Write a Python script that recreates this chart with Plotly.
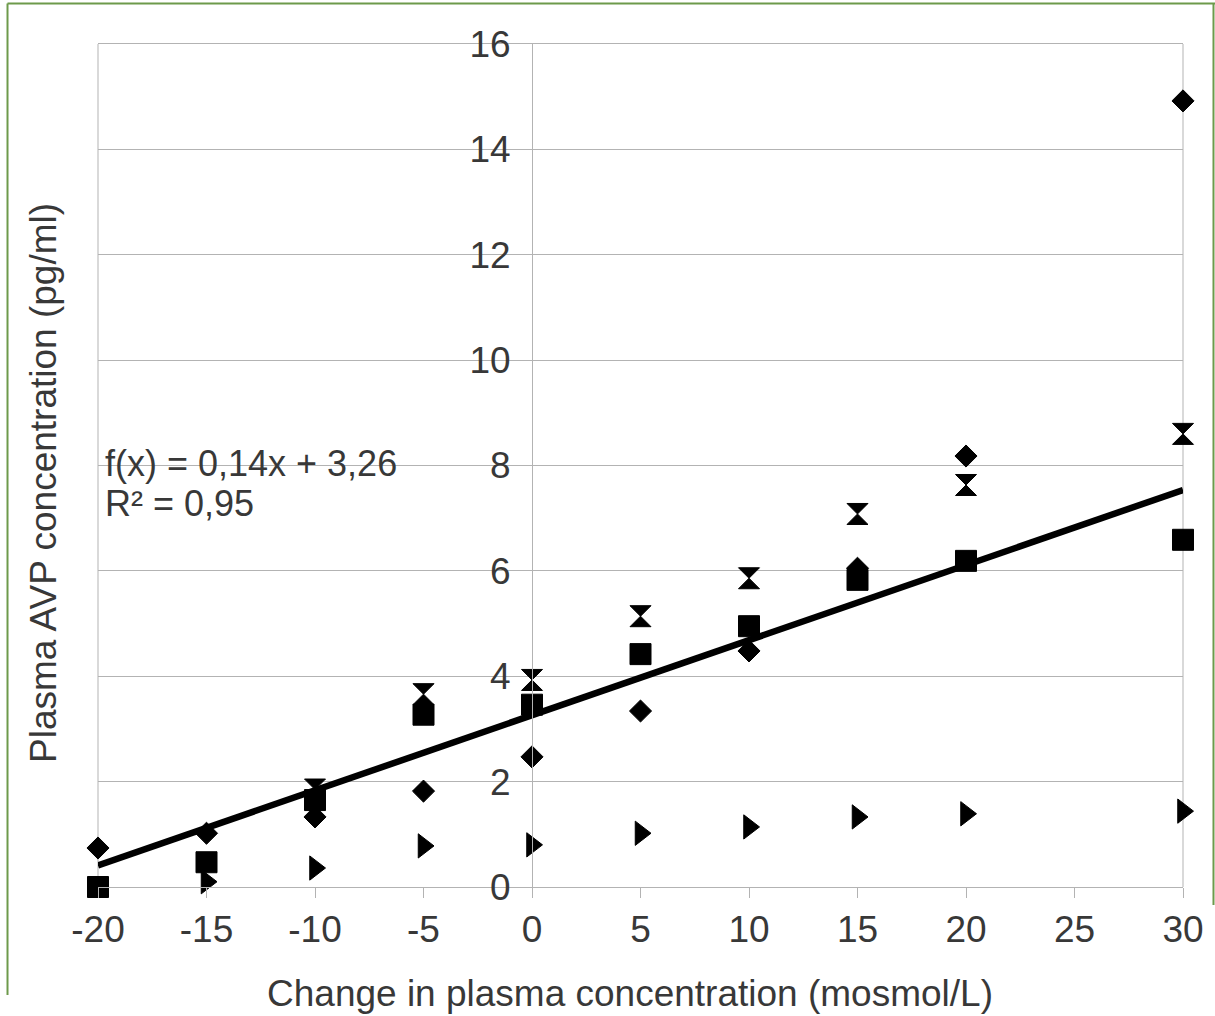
import plotly.graph_objects as go

# ---- data ----
x_vals = [-20, -15, -10, -5, 0, 5, 10, 15, 20, 30]
diamond_y = [0.74, 1.02, 1.33, 1.82, 2.47, 3.34, 4.48, 6.05, 8.18, 14.92]
square_y = [0.0, 0.47, 1.65, 3.27, 3.46, 4.42, 4.95, 5.83, 6.19, 6.59]
hourglass_x = [-10, -5, 0, 5, 10, 15, 20, 30]
hourglass_y = [1.85, 3.66, 3.93, 5.14, 5.86, 7.08, 7.63, 8.60]
triangle_x = [-15, -10, -5, 0, 5, 10, 15, 20, 30]
triangle_y = [0.10, 0.36, 0.78, 0.80, 1.02, 1.14, 1.33, 1.39, 1.44]
trend_slope = 0.1425
trend_intercept = 3.26
trend_x = [-20, 30]
x_ticks = [-20, -15, -10, -5, 0, 5, 10, 15, 20, 25, 30]
x_tick_labels = ["-20", "-15", "-10", "-5", "0", "5", "10", "15", "20", "25", "30"]
y_ticks = [0, 2, 4, 6, 8, 10, 12, 14, 16]
equation_text = "f(x) = 0,14x + 3,26"
r2_text = "R² = 0,95"
x_title = "Change in plasma concentration (mosmol/L)"
y_title = "Plasma AVP concentration (pg/ml)"

FONT = "Liberation Sans, Arial, sans-serif"
FS = 37
TXT = "#383838"
GRID = "#b3b3b3"
GREEN = "#6d9a4b"

fig = go.Figure()

trend_y = [trend_slope * x + trend_intercept for x in trend_x]

mk_line = dict(color="black", width=1)
fig.add_trace(go.Scatter(x=x_vals, y=diamond_y, mode="markers", cliponaxis=False,
                         marker=dict(symbol="diamond", size=17, color="black", line=mk_line)))
fig.add_trace(go.Scatter(x=x_vals, y=square_y, mode="markers", cliponaxis=False,
                         marker=dict(symbol="square", size=21, color="black", line=mk_line)))
fig.add_trace(go.Scatter(x=hourglass_x, y=hourglass_y, mode="markers", cliponaxis=False,
                         marker=dict(symbol="hourglass", size=21, color="black", line=mk_line)))
fig.add_trace(go.Scatter(x=triangle_x, y=triangle_y, mode="markers", cliponaxis=False,
                         marker=dict(symbol="triangle-right", size=21, color="black", line=mk_line)))
fig.add_trace(go.Scatter(x=trend_x, y=trend_y, mode="lines", cliponaxis=False,
                         line=dict(color="black", width=6.5)))

fig.update_layout(
    width=1215, height=1016,
    margin=dict(l=98, r=32, t=44, b=129),
    paper_bgcolor="white", plot_bgcolor="white",
    showlegend=False,
    font=dict(family=FONT, size=FS, color=TXT),
    xaxis=dict(range=[-20, 30], tickvals=x_ticks, ticktext=x_tick_labels,
               showgrid=False, zeroline=False, showline=True, mirror=True,
               linecolor=GRID, linewidth=1, ticks="outside", ticklen=10,
               tickcolor=GRID, tickwidth=1,
               tickfont=dict(family=FONT, size=FS, color=TXT)),
    yaxis=dict(range=[0, 16], tickvals=y_ticks, anchor="free", position=0.4,
               showgrid=True, gridcolor=GRID, gridwidth=1, zeroline=False,
               showline=True, linecolor=GRID, linewidth=1, ticks="",
               ticklabelstandoff=14,
               tickfont=dict(family=FONT, size=FS, color=TXT)),
    shapes=[
        dict(type="line", xref="paper", yref="paper", x0=0, x1=0, y0=0, y1=1,
             line=dict(color=GRID, width=1), layer="below"),
        dict(type="line", xref="paper", yref="paper", x0=1, x1=1, y0=0, y1=1,
             line=dict(color=GRID, width=1), layer="below"),
        # outer green frame
        dict(type="line", xref="paper", yref="paper", x0=-0.0834, x1=-0.0834,
             y0=-0.128, y1=1.048, line=dict(color=GREEN, width=2)),
        dict(type="line", xref="paper", yref="paper", x0=-0.0834, x1=1.03,
             y0=1.048, y1=1.048, line=dict(color=GREEN, width=2)),
        dict(type="line", xref="paper", yref="paper", x0=1.0281, x1=1.0281,
             y0=-0.0214, y1=1.048, line=dict(color=GREEN, width=2)),
    ],
    annotations=[
        dict(text=equation_text, xref="paper", yref="paper", x=0.005, y=(887 - 464) / 843,
             xanchor="left", yanchor="middle", showarrow=False,
             font=dict(family=FONT, size=36, color=TXT)),
        dict(text=r2_text, xref="paper", yref="paper", x=0.005, y=(887 - 503) / 843,
             xanchor="left", yanchor="middle", showarrow=False,
             font=dict(family=FONT, size=36, color=TXT)),
        dict(text=x_title, xref="paper", yref="paper", x=(630 - 98) / 1085, y=(887 - 993) / 843,
             xanchor="center", yanchor="middle", showarrow=False,
             font=dict(family=FONT, size=FS, color=TXT)),
        dict(text=y_title, xref="paper", yref="paper", x=(43 - 98) / 1085, y=(887 - 483) / 843,
             xanchor="center", yanchor="middle", showarrow=False, textangle=-90,
             font=dict(family=FONT, size=FS, color=TXT)),
    ],
)

fig.write_html("out.html")
